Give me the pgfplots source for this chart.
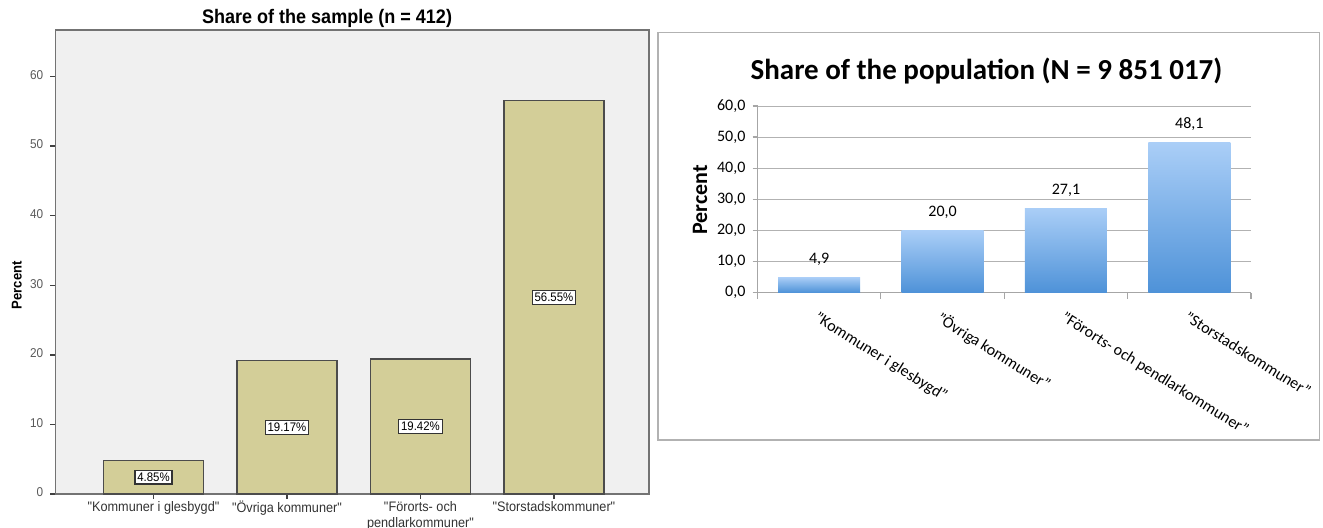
\documentclass[border=0pt]{standalone}
\usepackage{fontspec}
\setmainfont{Carlito}
\newfontfamily\spss[FakeStretch=0.92]{Liberation Sans}
\usepackage{pgfplots}
\pgfplotsset{compat=1.18}
\definecolor{spssbg}{HTML}{F0F0F0}
\definecolor{khaki}{HTML}{D3CE98}
\definecolor{bartop}{HTML}{AACEF7}
\definecolor{barbot}{HTML}{4E92D8}

\begin{document}
\begin{tikzpicture}[x=1pt,y=1pt]
\useasboundingbox (0,0) rectangle (661.5,263.5);

% left: sample
\begin{axis}[
  at={(27.75pt,16.5pt)}, anchor=south west,
  scale only axis, width=296.75pt, height=232pt,
  xmin=-0.734, xmax=3.712, ymin=0, ymax=66.7,
  axis background/.style={fill=spssbg},
  axis line style={draw=black!55, line width=0.9pt},
  xtick={0,1,2,3}, ytick={0,10,...,60},
  xtick pos=left, ytick pos=left,
  tick align=outside, major tick length=2.6pt,
  tick style={draw=black!75, line width=0.7pt},
  typeset ticklabels with strut,
  xticklabels={"Kommuner i glesbygd","Övriga kommuner",{"Förorts- och\\pendlarkommuner"},"Storstadskommuner"},
  xticklabel style={align=center, font=\spss\fontsize{6.9}{6.5}\selectfont, text=black!80, yshift=2.5pt},
  yticklabel style={font=\spss\fontsize{6.4}{7}\selectfont, text=black!65},
  /pgf/number format/assume math mode=true,
  every axis title shift=0pt,
  title={Share of the sample (n = 412)},
  title style={at={(axis description cs:0.4575,1.026)}, anchor=center, font=\spss\bfseries\fontsize{9.8}{11}\selectfont},
  ylabel={Percent},
  ylabel style={at={(axis description cs:-0.065,0.45)}, anchor=center, font=\spss\bfseries\fontsize{7.1}{8}\selectfont},
]
\addplot[ybar, bar width=50pt, fill=khaki, draw=black!70, line width=0.7pt]
  coordinates {(0,4.85) (1,19.17) (2,19.42) (3,56.55)};
\addplot[draw=none, mark=none, nodes near coords, point meta=explicit symbolic,
  nodes near coords align=center,
  every node near coord/.append style={draw=black!80, fill=white, inner sep=1.2pt, line width=0.6pt,
    font=\spss\fontsize{6.2}{7}\selectfont}]
  coordinates {(0,2.425)[4.85\%] (1,9.585)[19.17\%] (2,9.71)[19.42\%] (3,28.275)[56.55\%]};
\end{axis}

% right: population
\draw[black!30, line width=0.6pt] (329,43.5) rectangle (659.75,247.25);
\begin{axis}[
  at={(378.75pt,117.25pt)}, anchor=south west,
  scale only axis, width=246.75pt, height=93.25pt,
  xmin=-0.5, xmax=3.5, ymin=0, ymax=60,
  axis lines=left, axis line style={-, draw=black!35, line width=0.6pt},
  ymajorgrids, grid style={draw=black!30, line width=0.5pt},
  xtick={0,1,2,3}, minor xtick={-0.5,0.5,1.5,2.5,3.5},
  ytick={0,10,...,60},
  tick align=outside, major tick length=2.5pt, minor tick length=3pt,
  major x tick style={draw=none},
  minor x tick style={draw=black!35, line width=0.6pt},
  ytick style={draw=black!35, line width=0.6pt},
  yticklabel style={/pgf/number format/.cd, fixed, fixed zerofill, precision=1, use comma, assume math mode=true, /tikz/.cd, font=\fontsize{8}{9}\selectfont},
  xticklabels={"Kommuner i glesbygd","Övriga kommuner","Förorts- och pendlarkommuner","Storstadskommuner"},
  xticklabel style={rotate=-32, anchor=north west, font=\fontsize{8}{9}\selectfont, yshift=-2pt},
  every axis title shift=0pt,
  title={Share of the population (N = 9 851 017)},
  title style={at={(axis description cs:0.464,1.188)}, anchor=center, font=\bfseries\fontsize{14.5}{16}\selectfont},
  ylabel={Percent},
  ylabel style={at={(axis description cs:-0.1165,0.496)}, anchor=center, font=\bfseries\fontsize{11}{12}\selectfont},
  every node near coord/.append style={font=\fontsize{8}{9}\selectfont, text=black, yshift=2.5pt},
  nodes near coords={\pgfmathprintnumber[fixed,fixed zerofill,precision=1,use comma,assume math mode=true]{\pgfplotspointmeta}},
]
% one plot per bar so that each bar has its own gradient
\addplot[ybar, bar width=41pt, bar shift=0pt, draw=none, top color=bartop, bottom color=barbot] coordinates {(0,4.9)};
\addplot[ybar, bar width=41pt, bar shift=0pt, draw=none, top color=bartop, bottom color=barbot] coordinates {(1,20.0)};
\addplot[ybar, bar width=41pt, bar shift=0pt, draw=none, top color=bartop, bottom color=barbot] coordinates {(2,27.1)};
\addplot[ybar, bar width=41pt, bar shift=0pt, draw=none, top color=bartop, bottom color=barbot] coordinates {(3,48.1)};
\end{axis}
\end{tikzpicture}
\end{document}
